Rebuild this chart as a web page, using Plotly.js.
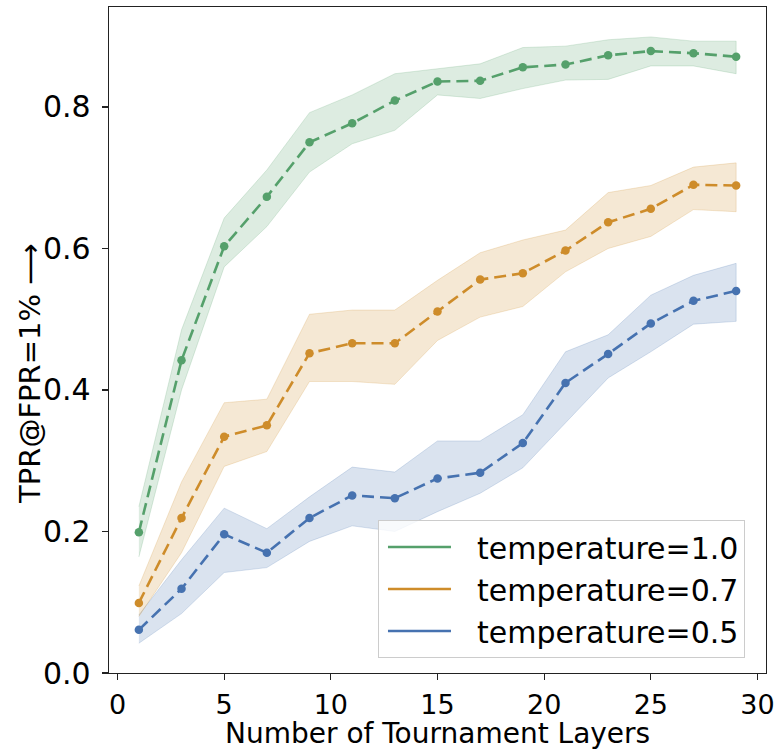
<!DOCTYPE html>
<html><head><meta charset="utf-8">
<script src="https://cdn.plot.ly/plotly-3.0.1.min.js"></script>
<style>html,body{margin:0;padding:0;background:#fff}</style>
</head><body>
<div id="chart" style="width:776px;height:750px"></div>
<script>
const layers = [1, 3, 5, 7, 9, 11, 13, 15, 17, 19, 21, 23, 25, 27, 29];

const t10Mean  = [0.199, 0.442, 0.603, 0.673, 0.750, 0.777, 0.809, 0.836, 0.837, 0.856, 0.860, 0.873, 0.879, 0.876, 0.871];
const t10Upper = [0.235, 0.485, 0.643, 0.711, 0.792, 0.817, 0.847, 0.854, 0.861, 0.884, 0.886, 0.895, 0.899, 0.893, 0.893];
const t10Lower = [0.164, 0.400, 0.574, 0.631, 0.708, 0.748, 0.767, 0.817, 0.812, 0.826, 0.838, 0.839, 0.858, 0.858, 0.847];

const t07Mean  = [0.099, 0.219, 0.334, 0.350, 0.452, 0.466, 0.466, 0.511, 0.556, 0.565, 0.597, 0.637, 0.656, 0.690, 0.689];
const t07Upper = [0.123, 0.270, 0.382, 0.387, 0.507, 0.513, 0.513, 0.555, 0.594, 0.612, 0.626, 0.679, 0.689, 0.715, 0.721];
const t07Lower = [0.080, 0.170, 0.292, 0.313, 0.412, 0.412, 0.408, 0.470, 0.503, 0.518, 0.567, 0.600, 0.617, 0.655, 0.652];

const t05Mean  = [0.061, 0.119, 0.196, 0.170, 0.219, 0.251, 0.247, 0.275, 0.283, 0.325, 0.410, 0.451, 0.494, 0.526, 0.540];
const t05Upper = [0.082, 0.160, 0.233, 0.204, 0.249, 0.291, 0.284, 0.328, 0.328, 0.365, 0.454, 0.478, 0.534, 0.562, 0.579];
const t05Lower = [0.042, 0.084, 0.142, 0.149, 0.186, 0.208, 0.200, 0.228, 0.254, 0.290, 0.353, 0.417, 0.454, 0.493, 0.497];

const seriesNames = ['temperature=1.0', 'temperature=0.7', 'temperature=0.5'];
const xTicks = [0, 5, 10, 15, 20, 25, 30];
const yTicks = [0.0, 0.2, 0.4, 0.6, 0.8];
const xTitle = 'Number of Tournament Layers';
const yTitle = 'TPR@FPR=1% ⟶';

const colors = [[85, 160, 107], [206, 140, 42], [70, 114, 176]];
const series = [
  {mean: t10Mean, up: t10Upper, lo: t10Lower},
  {mean: t07Mean, up: t07Upper, lo: t07Lower},
  {mean: t05Mean, up: t05Upper, lo: t05Lower}
];
const rgb = (c, a) => a === undefined ? `rgb(${c[0]},${c[1]},${c[2]})` : `rgba(${c[0]},${c[1]},${c[2]},${a})`;
const FONT = 'DejaVu Sans, sans-serif';

const traces = [];
// bands (drawn first)
series.slice().reverse().forEach((s, ri) => {
  const i = series.length - 1 - ri;
  traces.push({
    x: layers.concat(layers.slice().reverse()),
    y: s.up.concat(s.lo.slice().reverse()),
    type: 'scatter', mode: 'lines', fill: 'toself',
    fillcolor: rgb(colors[i], 0.2),
    line: {width: 1, color: rgb(colors[i], 0.2)},
    hoverinfo: 'skip', showlegend: false
  });
});
// mean lines
series.slice().reverse().forEach((s, ri) => {
  const i = series.length - 1 - ri;
  traces.push({
    x: layers, y: s.mean, type: 'scatter', mode: 'lines+markers',
    line: {color: rgb(colors[i]), width: 2.6, dash: '12px,6px'},
    marker: {color: rgb(colors[i]), size: 8.5},
    showlegend: false
  });
});
// legend handles (solid lines)
series.forEach((s, i) => {
  traces.push({
    x: [null], y: [null], type: 'scatter', mode: 'lines',
    name: '\u2002\u2009' + seriesNames[i],
    line: {color: rgb(colors[i]), width: 2.6}
  });
});

const layout = {
  width: 776, height: 750,
  margin: {l: 109, r: 10, t: 7, b: 77, pad: 0},
  paper_bgcolor: '#fff', plot_bgcolor: '#fff',
  font: {family: FONT, color: '#000', size: 30},
  showlegend: true,
  xaxis: {
    range: [-0.4, 30.4], tickvals: xTicks, ticktext: xTicks.map(String),
    showgrid: false, zeroline: false,
    showline: true, mirror: true, linecolor: '#222', linewidth: 1.3,
    ticks: 'outside', ticklen: 6, tickwidth: 1.3, tickcolor: '#222',
    tickfont: {family: FONT, size: 27}, ticklabelstandoff: 1,
    ticklabeloverflow: 'allow',
    automargin: false
  },
  yaxis: {
    range: [0, 0.9413], tickvals: yTicks, ticktext: yTicks.map(v => v.toFixed(1)),
    showgrid: false, zeroline: false,
    showline: true, mirror: true, linecolor: '#222', linewidth: 1.3,
    ticks: 'outside', ticklen: 6, tickwidth: 1.3, tickcolor: '#222',
    tickfont: {family: FONT, size: 30}, ticklabelstandoff: 5,
    ticklabeloverflow: 'allow',
    automargin: false
  },
  annotations: [
    {text: xTitle, xref: 'paper', yref: 'paper', x: 0.5, y: 0,
     xanchor: 'center', yanchor: 'middle', yshift: -60, showarrow: false,
     font: {family: FONT, size: 28, color: '#000'}},
    {text: yTitle, xref: 'paper', yref: 'paper', x: 0, y: 0.449,
     xanchor: 'center', yanchor: 'middle', xshift: -79, textangle: -90, showarrow: false,
     font: {family: FONT, size: 29, color: '#000'}}
  ],
  legend: {
    x: 0.4094, xanchor: 'left', y: 0.0225, yanchor: 'bottom',
    bgcolor: 'rgba(255,255,255,0.8)', bordercolor: '#cccccc', borderwidth: 1,
    font: {family: FONT, size: 30}, itemwidth: 63, tracegroupgap: 0, indentation: 4
  }
};

Plotly.newPlot('chart', traces, layout, {displayModeBar: false, staticPlot: true});
</script>
</body></html>
